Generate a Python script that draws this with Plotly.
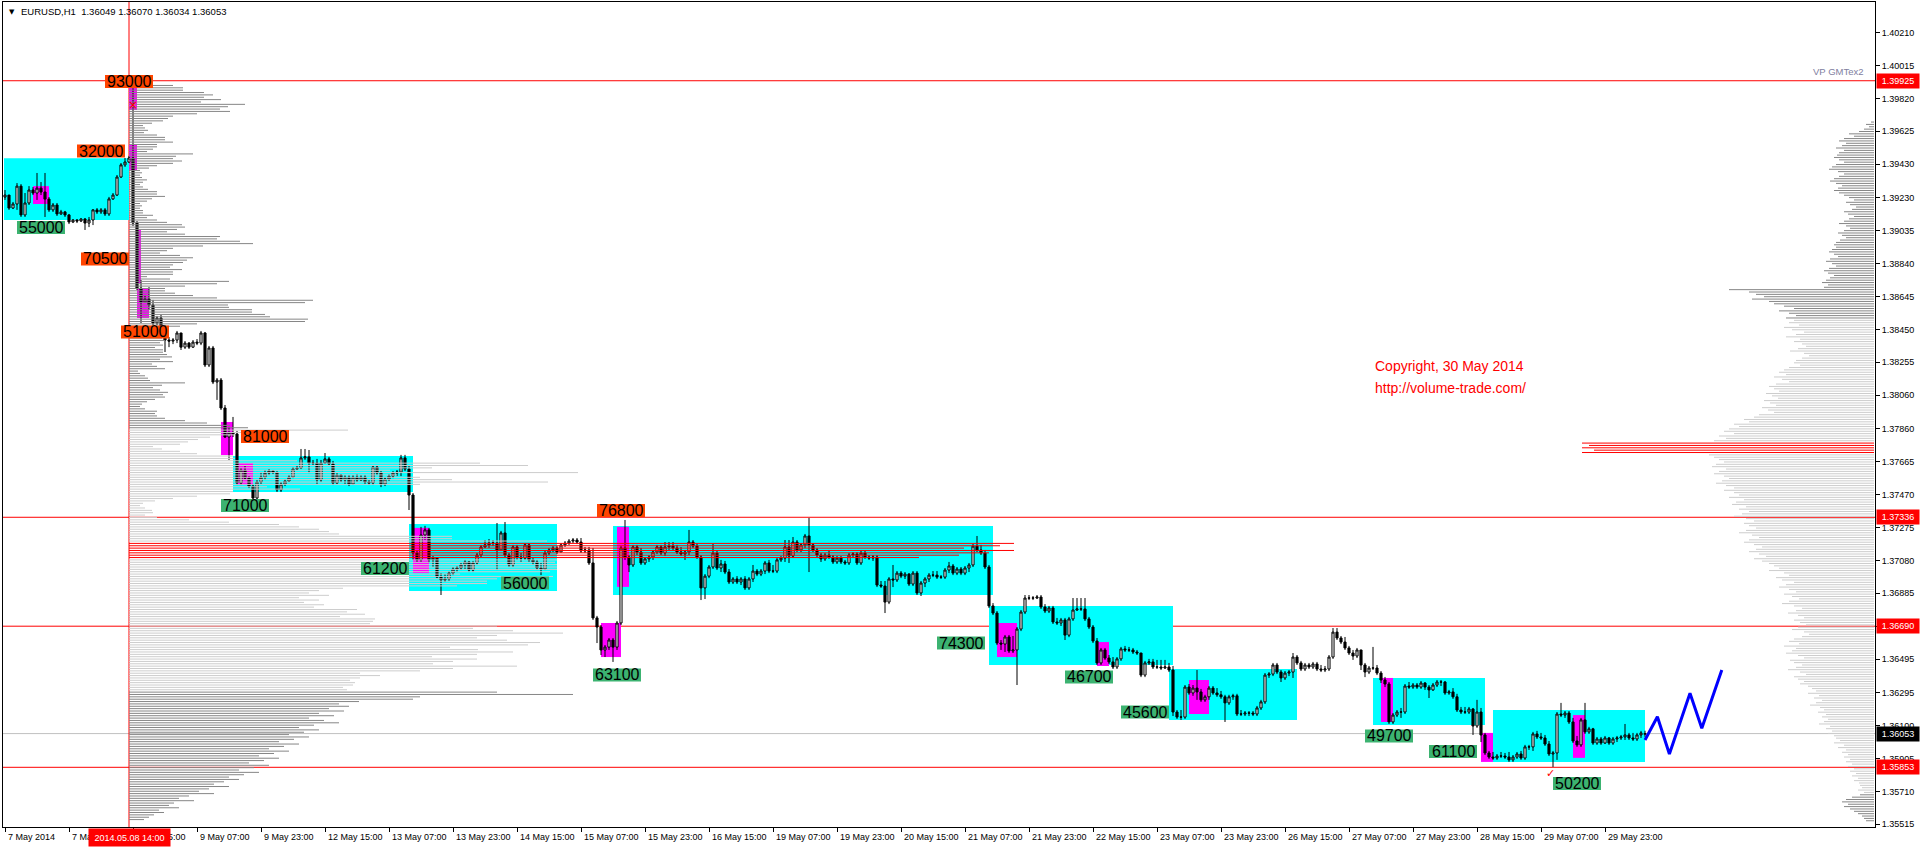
import plotly.graph_objects as go

# ======================= DATA =======================
# EURUSD H1 candles, prices in points (1e-5). Bar 0 = 7 May 2014 07:00
open_pts = [
139235,139247,139170,139194,139300,139129,139200,139277,139259,139288,
139265,139223,139159,139188,139135,139147,139129,139087,139099,139093,
139105,139081,139099,139159,139147,139159,139135,139224,139247,139354,
139426,139443,139467,139081,138695,138613,138631,138595,138488,138518,
138464,138387,138381,138387,138429,138345,138369,138345,138375,138369,
138429,138239,138340,138138,138150,137984,137812,137836,137830,137539,
137616,137568,137521,137450,137545,137574,137598,137610,137604,137498,
137533,137551,137574,137622,137628,137688,137694,137658,137658,137557,
137658,137682,137652,137539,137586,137557,137574,137533,137574,137557,
137574,137545,137539,137634,137598,137533,137563,137580,137598,137604,
137688,137622,137468,137124,137083,137231,137261,137083,137094,136981,
136964,136970,137005,137029,137035,137053,137071,137023,137065,137112,
137160,137172,137183,137183,137142,137243,137112,137053,137160,137100,
137094,137172,137083,137071,137035,137029,137124,137142,137154,137130,
137172,137183,137195,137201,137189,137136,137142,137065,136739,136685,
136549,136566,136608,136566,136709,137154,137100,137053,137160,137130,
137065,137089,137100,137130,137160,137124,137160,137165,137154,137130,
137118,137130,137189,137165,137100,136917,136987,137041,137124,137035,
137059,137011,136952,136970,136952,136970,136917,136970,137017,136999,
137017,137065,137017,137017,137083,137094,137160,137106,137189,137142,
137172,137225,137172,137142,137112,137089,137112,137100,137071,137094,
137071,137065,137112,137118,137065,137124,137100,137094,137100,136934,
136928,136833,136970,136964,137005,136987,136999,136940,137005,136887,
136946,136970,136993,136993,136981,136981,137023,137047,137005,137029,
137005,137035,137053,137165,137142,137124,137041,136810,136768,136590,
136584,136626,136543,136549,136673,136774,136857,136857,136857,136863,
136804,136780,136798,136715,136709,136727,136637,136733,136786,136792,
136792,136733,136685,136602,136472,136549,136501,136478,136448,136496,
136555,136549,136549,136537,136531,136400,136472,136478,136448,136448,
136442,136448,136430,136181,136151,136151,136329,136294,136323,136300,
136253,136271,136323,136294,136283,136271,136235,136271,136277,136169,
136169,136175,136175,136169,136205,136241,136400,136406,136460,136418,
136383,136412,136418,136507,136472,136436,136460,136448,136466,136436,
136430,136436,136507,136655,136620,136596,136561,136531,136513,136549,
136460,136418,136442,136442,136412,136371,136347,136122,136163,136181,
136181,136335,136329,136341,136329,136353,136329,136312,136341,136359,
136359,136294,136300,136271,136193,136181,136181,136199,136098,136181,
136045,135938,135914,135908,135920,135920,135914,135897,135914,135932,
135908,135974,135974,136051,136033,136027,135991,135932,135938,136169,
136163,136175,136122,136009,135986,136134,136063,136081,135997,136021,
135997,136027,135997,136021,136027,136033,136045,136027,136021,136045,
136049]
high_pts = [
139277,139247,139206,139318,139312,139259,139300,139294,139378,139324,
139378,139235,139200,139200,139159,139153,139135,139105,139105,139111,
139111,139117,139164,139170,139170,139170,139236,139259,139366,139437,
139467,139479,139925,139093,138743,138655,138701,138625,138530,138536,
138476,138405,138399,138441,138429,138381,138375,138387,138393,138441,
138435,138352,138352,138162,138162,138002,137872,137931,137848,137628,
137640,137580,137533,137557,137604,137616,137622,137616,137604,137545,
137563,137586,137634,137640,137741,137741,137735,137676,137682,137676,
137717,137694,137670,137598,137592,137586,137586,137586,137592,137586,
137586,137557,137646,137646,137610,137574,137592,137610,137616,137706,
137706,137640,137480,137142,137279,137285,137273,137106,137094,137005,
136999,137017,137041,137047,137065,137083,137077,137077,137124,137172,
137201,137207,137201,137302,137255,137308,137124,137172,137172,137124,
137183,137183,137094,137083,137065,137136,137154,137165,137165,137183,
137195,137207,137213,137213,137213,137160,137160,137154,136751,136697,
136578,136620,136620,136721,137165,137320,137112,137172,137172,137154,
137100,137112,137142,137172,137172,137189,137189,137189,137172,137160,
137142,137261,137201,137183,137112,136999,137053,137177,137136,137083,
137077,137029,136981,136987,136981,136987,136981,137053,137029,137029,
137077,137083,137053,137094,137106,137201,137201,137219,137201,137183,
137237,137332,137183,137154,137124,137124,137142,137112,137106,137106,
137083,137124,137130,137130,137136,137136,137112,137112,137112,136958,
136958,136981,137053,137017,137017,137011,137005,137017,137017,136958,
136981,137005,137017,137017,136993,137035,137071,137059,137041,137041,
137047,137065,137177,137225,137172,137142,137053,136827,136780,136608,
136638,136638,136632,136685,136786,136875,136875,136869,136875,136875,
136821,136810,136810,136739,136739,136739,136745,136857,136857,136857,
136857,136745,136697,136620,136561,136561,136519,136507,136507,136567,
136573,136567,136561,136549,136531,136484,136496,136496,136490,136490,
136490,136472,136454,136193,136193,136341,136347,136341,136430,136318,
136283,136335,136335,136323,136306,136283,136283,136289,136289,136193,
136187,136187,136187,136217,136253,136412,136418,136472,136472,136430,
136424,136430,136531,136519,136484,136472,136472,136478,136478,136460,
136454,136519,136679,136679,136632,136626,136573,136549,136561,136549,
136472,136454,136567,136460,136424,136389,136359,136175,136193,136205,
136347,136359,136353,136353,136365,136359,136341,136353,136371,136371,
136365,136312,136323,136289,136211,136211,136211,136205,136253,136205,
136057,135950,135944,135932,135944,135938,135944,135926,135944,135950,
135986,135986,136063,136069,136057,136045,136009,135950,136181,136235,
136187,136187,136146,136039,136146,136235,136093,136087,136033,136033,
136039,136033,136033,136039,136045,136110,136057,136057,136057,136069,
136070]
low_pts = [
139218,139159,139164,139159,139117,139117,139188,139247,139218,139247,
139117,139147,139147,139123,139129,139117,139075,139081,139081,139087,
139040,139057,139069,139135,139135,139123,139123,139218,139241,139348,
139414,139437,139063,138684,138488,138613,138565,138476,138476,138447,
138316,138345,138363,138369,138328,138334,138334,138340,138357,138357,
138227,138227,138126,138032,137972,137806,137676,137812,137527,137527,
137557,137509,137439,137439,137533,137557,137586,137592,137486,137486,
137521,137545,137568,137616,137622,137676,137598,137646,137533,137545,
137652,137640,137527,137533,137545,137533,137521,137533,137545,137551,
137533,137527,137527,137586,137515,137521,137551,137568,137580,137580,
137610,137379,137083,137071,137071,137201,137065,137041,136975,136875,
136952,136958,136993,137011,137023,137029,137011,137011,137053,137100,
137154,137154,137165,137023,137142,137100,137041,137041,137083,137071,
137083,137071,137053,137023,136993,137023,137112,137130,137118,137130,
137160,137172,137183,137177,137124,137124,137053,136727,136590,136519,
136507,136549,136478,136549,136697,137083,137011,137041,137112,137053,
137053,137071,137083,137118,137112,137106,137142,137142,137118,137106,
137083,137112,137154,137089,136845,136851,136975,137029,137023,137011,
136999,136940,136940,136940,136934,136905,136905,136952,136987,136987,
136999,137005,137005,137005,137071,137071,137065,137094,137130,137130,
137154,137011,137130,137100,137071,137077,137089,137059,137059,137059,
137053,137053,137094,137053,137053,137089,137083,137077,136922,136917,
136768,136821,136922,136952,136975,136970,136928,136928,136875,136869,
136922,136952,136981,136970,136970,136970,137005,136993,136993,136993,
136993,137011,137041,137130,137112,137029,136798,136756,136578,136549,
136537,136531,136531,136341,136661,136762,136845,136845,136851,136792,
136768,136768,136703,136697,136691,136608,136625,136721,136780,136780,
136721,136673,136590,136460,136460,136490,136466,136436,136436,136484,
136537,136537,136525,136519,136388,136388,136460,136436,136436,136430,
136436,136418,136157,136140,136134,136140,136283,136277,136253,136241,
136241,136253,136283,136271,136259,136122,136223,136253,136157,136157,
136157,136157,136157,136157,136193,136229,136383,136394,136406,136359,
136371,136394,136383,136460,136424,136424,136436,136436,136424,136418,
136418,136424,136496,136608,136584,136549,136519,136490,136501,136430,
136388,136406,136430,136400,136353,136329,136110,136110,136151,136146,
136169,136318,136318,136318,136318,136312,136264,136306,136329,136335,
136283,136283,136259,136181,136169,136169,136169,136045,136087,136003,
135926,135903,135897,135897,135908,135903,135885,135885,135903,135897,
135897,135956,135950,136021,136015,135980,135920,135855,135897,136151,
136146,136110,135997,135974,135974,136051,136051,135986,135986,135986,
135991,135986,135986,136003,136015,136015,136015,136009,136009,136027,
136034]
close_pts = [
139247,139170,139194,139300,139129,139200,139277,139259,139288,139265,
139223,139159,139188,139135,139147,139129,139087,139099,139093,139105,
139081,139099,139159,139147,139159,139135,139224,139247,139354,139426,
139443,139467,139081,138695,138613,138631,138595,138488,138518,138464,
138387,138381,138387,138429,138345,138369,138345,138375,138369,138429,
138239,138340,138138,138150,137984,137812,137836,137830,137539,137616,
137568,137521,137450,137545,137574,137598,137610,137604,137498,137533,
137551,137574,137622,137628,137688,137694,137658,137658,137557,137658,
137682,137652,137539,137586,137557,137574,137533,137574,137557,137574,
137545,137539,137634,137598,137533,137563,137580,137598,137604,137688,
137622,137468,137124,137083,137231,137261,137083,137094,136981,136964,
136970,137005,137029,137035,137053,137071,137023,137065,137112,137160,
137172,137183,137183,137142,137243,137112,137053,137160,137100,137094,
137172,137083,137071,137035,137029,137124,137142,137154,137130,137172,
137183,137195,137201,137189,137136,137142,137065,136739,136685,136549,
136566,136608,136566,136709,137154,137100,137053,137160,137130,137065,
137089,137100,137130,137160,137124,137160,137165,137154,137130,137118,
137130,137189,137165,137100,136917,136987,137041,137124,137035,137059,
137011,136952,136970,136952,136970,136917,136970,137017,136999,137017,
137065,137017,137017,137083,137094,137160,137106,137189,137142,137172,
137225,137172,137142,137112,137089,137112,137100,137071,137094,137071,
137065,137112,137118,137065,137124,137100,137094,137100,136934,136928,
136833,136970,136964,137005,136987,136999,136940,137005,136887,136946,
136970,136993,136993,136981,136981,137023,137047,137005,137029,137005,
137035,137053,137165,137142,137124,137041,136810,136768,136590,136584,
136626,136543,136549,136673,136774,136857,136857,136857,136863,136804,
136780,136798,136715,136709,136727,136637,136733,136786,136792,136792,
136733,136685,136602,136472,136549,136501,136478,136448,136496,136555,
136549,136549,136537,136531,136400,136472,136478,136448,136448,136442,
136448,136430,136181,136151,136151,136329,136294,136323,136300,136253,
136271,136323,136294,136283,136271,136235,136271,136277,136169,136169,
136175,136175,136169,136205,136241,136400,136406,136460,136418,136383,
136412,136418,136507,136472,136436,136460,136448,136466,136436,136430,
136436,136507,136655,136620,136596,136561,136531,136513,136549,136460,
136418,136442,136442,136412,136371,136347,136122,136163,136181,136181,
136335,136329,136341,136329,136353,136329,136312,136341,136359,136359,
136294,136300,136271,136193,136181,136181,136199,136098,136181,136045,
135938,135914,135908,135920,135920,135914,135897,135914,135932,135908,
135974,135974,136051,136033,136027,135991,135932,135938,136169,136163,
136175,136122,136009,135986,136134,136063,136081,135997,136021,135997,
136027,135997,136021,136027,136033,136045,136027,136021,136045,136057,
136053]

# time axis labels (bar index -> text)
time_tick_bars = [0, 16, 32, 48, 64, 80, 96, 112, 128, 144, 160, 176, 192, 208,
                  224, 240, 256, 272, 288, 304, 320, 336, 352, 368, 384, 400]
time_tick_labels = ["7 May 2014", "7 May 23:00", "8 May 15:00", "9 May 07:00", "9 May 23:00",
                    "12 May 15:00", "13 May 07:00", "13 May 23:00", "14 May 15:00", "15 May 07:00",
                    "15 May 23:00", "16 May 15:00", "19 May 07:00", "19 May 23:00", "20 May 15:00",
                    "21 May 07:00", "21 May 23:00", "22 May 15:00", "23 May 07:00", "23 May 23:00",
                    "26 May 15:00", "27 May 07:00", "27 May 23:00", "28 May 15:00", "29 May 07:00",
                    "29 May 23:00"]

price_ticks = [1.40210, 1.40015, 1.39820, 1.39625, 1.39430, 1.39230, 1.39035, 1.38840, 1.38645,
               1.38450, 1.38255, 1.38060, 1.37860, 1.37665, 1.37470, 1.37275, 1.37080, 1.36885,
               1.36690, 1.36495, 1.36295, 1.36100, 1.35905, 1.35710, 1.35515]

level_prices = [1.39925, 1.37336, 1.36690, 1.35853]
bid_price = 1.36053
event_bar = 31
event_label = "2014.05.08 14:00"

# value-area boxes (cyan): x from/to in bars, high/low in points
va_x0 = [-0.25, 57, 101, 152, 246, 291, 342, 372]
va_x1 = [31, 102, 138, 247, 292, 323, 370, 410]
va_hi = [139466, 137699, 137296, 137284, 136809, 136436, 136383, 136193]
va_lo = [139099, 137486, 136899, 136875, 136460, 136134, 136104, 135885]

# POC boxes (magenta)
poc_x0 = [7, 31, 31, 33, 33, 54, 58, 102, 149, 153, 248, 273, 296, 344, 369, 392]
poc_x1 = [11, 33, 33, 34, 36, 57, 62, 106, 154, 156, 253, 276, 301, 347, 372, 395]
poc_hi = [139300, 139900, 139544, 139040, 138695, 137901, 137658, 137273, 136709, 137279,
          136709, 136596, 136371, 136383, 136057, 136163]
poc_lo = [139194, 139752, 139396, 138725, 138518, 137705, 137527, 137005, 136507, 136923,
          136507, 136454, 136169, 136122, 135885, 135909]

# volume profile (left, starting at event bar) - top price, step, volumes
left_profile_top = 139925
profile_step = 14
left_profile_vol = [
23,23,44,54,54,75,84,75,92,72, 116,99,91,101,68,44,39,34,23,14,
16,19,15,28,36,36,44,28,28,24, 18,64,47,44,53,44,28,20,11,13,
11,13,18,14,11,14,19,28,28,36, 23,18,11,13,11,14,14,24,18,28,
38,53,56,48,38,56,91,88,111,124, 74,44,38,31,51,64,58,54,44,41,
53,44,44,18,41,100,88,56,36,36, 46,64,88,184,176,99,100,123,123,136,
141,179,176,68,51,36,34,34,34,33, 36,31,34,26,34,34,38,43,31,44,
23,28,36,9,11,16,19,21,56,33, 24,31,39,34,36,26,18,13,11,16,
28,26,28,36,56,78,101,119,219,158, 106,81,69,59,51,24,33,51,68,104,
106,168,351,399,303,261,449,268,291,323, 419,291,138,171,104,101,68,44,26,14,
11,16,23,24,16,28,60,100,150,170, 190,200,210,323,323,418,885,871,835,885,
860,830,790,428,426,428,428,428,421,331, 424,368,358,358,328,214,190,180,200,170,
190,175,195,185,228,218,236,211,246,244, 241,368,344,384,434,368,348,378,411,399,
321,349,384,348,303,348,324,304,388,324, 291,231,251,231,221,226,224,214,218,368,
444,291,284,230,210,220,200,215,190,205, 180,195,210,185,170,190,175,160,180,165,
150,170,155,140,160,145,130,150,135,120, 140,125,110,130,115,100,110,95,85,100,
80,70,85,60,50,65,45,40,50,30, 35,25,20,15]
left_va_high, left_va_low = 137860, 136305
left_poc_high, left_poc_low = 137190, 137090

# volume profile (right, drawn from the price axis leftwards)
right_profile_top = 139680
right_profile_vol = [
3,8,5,10, 15,25,20,30,35,28,32,38,30,35,
37,40,35,30,38,42,45,36,30,35,40,44,38,32,36,40,35,30,
25,20,28,24,18,22,30,26,20,25,30,35,28,24,30,36,32,28,34,38,40,
38,42,45,40,36,44,48,42,38,45,50,46,40,44,48,52,46,50,
145, 125,118,110,122,105,100, 90,80,95,85,78,88,
80,85,75,90,82,70,78,88,74,80,72,68,76,84,70,65,72,78,80,74,
85,90,95,88,100,92,85,98,105,100,95,108,102,96,110,104,98,112,106,100,115,
120,130,125,140,135,145,150,140,155,148,160,
292,285,292,280,292,
165,160,155,150,158,162,148,155,160,150,145,152,158,148,140,
150,140,135,145,130,138,142,128,135,125,132,140,128,120,130,125,118,128,135,122,115,125,130,120,112,118,125,115,108,120,112,105,
100,95,105,90,85,98,92,80,88,95,85,78,90,82,75,85,92,80,72,78,86,76,70,80,74,68,76,82,70,65,72,
80,85,75,90,78,82,88,76,70,84,80,72,78,86,74,68,80,76,70,74,66,
62,58,66,55,60,52,58,64,54,50,56,48,52,46,50,55,44,48,42,46,40,
38,34,40,30,36,28,32,26,30,24,28,22,26,20,24,18,22,16,20,15,
14,12,16,10,14,22,28,32,26,30,24,20,16,12,10,8]
right_va_high, right_va_low = 138510, 135695
right_poc_high, right_poc_low = 137780, 137715

# volume labels
label_text = ["93000", "32000", "55000", "70500", "51000", "81000", "71000", "61200", "56000",
              "76800", "63100", "74300", "46700", "45600", "49700", "61100", "50200"]
label_bar = [25, 18, 3, 19, 29, 59, 54, 89, 124, 148, 147, 233, 265, 279, 340, 356, 387]
label_price = [139921, 139508, 139054, 138868, 138435, 137815, 137406, 137032, 136946,
               137376, 136401, 136590, 136389, 136181, 136039, 135947, 135757]
label_kind = ["hi", "hi", "lo", "hi", "hi", "hi", "lo", "lo", "lo",
              "hi", "lo", "lo", "lo", "lo", "lo", "lo", "lo"]

# forecast zigzag
forecast_bar = [410, 413.1, 416.1, 421.25, 424.2, 429.2]
forecast_pts = [136015, 136153, 135932, 136292, 136085, 136430]

# ======================= LAYOUT GEOMETRY =======================
FIG_W, FIG_H = 1920, 849
ML, MR, MT, MB = 3, 45, 2, 22
PW = FIG_W - ML - MR
PH = FIG_H - MT - MB
X_RANGE = [-0.5, 467.5]
Y_RANGE = [1.35499, 1.40392]
PPX = (Y_RANGE[1] - Y_RANGE[0]) / PH      # price per pixel
BPX = (X_RANGE[1] - X_RANGE[0]) / PW      # bars per pixel
FONT = "Liberation Sans, Arial, sans-serif"


def paper_x(px):
    return (px - ML) / PW


def paper_y(py):
    return (FIG_H - MB - py) / PH


def P(v):
    return v / 1e5


fig = go.Figure()
shapes = []
annotations = []

# cyan value-area boxes
for x0, x1, hi, lo in zip(va_x0, va_x1, va_hi, va_lo):
    shapes.append(dict(type="rect", xref="x", yref="y", x0=x0, x1=x1, y0=P(lo), y1=P(hi),
                       fillcolor="#00FFFF", line=dict(width=0), layer="below"))
# magenta POC boxes
for x0, x1, hi, lo in zip(poc_x0, poc_x1, poc_hi, poc_lo):
    shapes.append(dict(type="rect", xref="x", yref="y", x0=x0, x1=x1, y0=P(lo), y1=P(hi),
                       fillcolor="#FF00FF", line=dict(width=0), layer="below"))


# volume profiles
def profile_traces(top, vols, anchor, direction, va_hi_p, va_lo_p, poc_hi_p, poc_lo_p):
    groups = {"dark": ([], []), "light": ([], []), "red": ([], [])}
    for k, v in enumerate(vols):
        pr = top - profile_step * k
        if poc_lo_p <= pr <= poc_hi_p:
            g = "red"
        elif va_lo_p <= pr <= va_hi_p:
            g = "light"
        else:
            g = "dark"
        xs, ys = groups[g]
        xs += [anchor, anchor + direction * v * BPX, None]
        ys += [P(pr), P(pr), None]
    cols = {"dark": "#868686", "light": "#CDCDCD", "red": "#FF0000"}
    for g, (xs, ys) in groups.items():
        fig.add_trace(go.Scatter(x=xs, y=ys, mode="lines", line=dict(color=cols[g], width=1),
                                 hoverinfo="skip", showlegend=False))


profile_traces(left_profile_top, left_profile_vol, event_bar, 1,
               left_va_high, left_va_low, left_poc_high, left_poc_low)
profile_traces(right_profile_top, right_profile_vol, X_RANGE[1] - 0.25, -1,
               right_va_high, right_va_low, right_poc_high, right_poc_low)

# level lines
for lp in level_prices:
    shapes.append(dict(type="line", xref="paper", yref="y", x0=0, x1=1, y0=lp, y1=lp,
                       line=dict(color="#FF0000", width=1), layer="below"))
shapes.append(dict(type="line", xref="paper", yref="y", x0=0, x1=1, y0=bid_price, y1=bid_price,
                   line=dict(color="#C0C0C0", width=1), layer="below"))
shapes.append(dict(type="line", xref="x", yref="paper", x0=event_bar, x1=event_bar, y0=0, y1=1,
                   line=dict(color="#FF0000", width=1), layer="below"))

# candles
bars = list(range(len(close_pts)))
fig.add_trace(go.Candlestick(
    x=bars, open=[P(v) for v in open_pts], high=[P(v) for v in high_pts],
    low=[P(v) for v in low_pts], close=[P(v) for v in close_pts],
    increasing=dict(line=dict(color="black", width=1), fillcolor="white"),
    decreasing=dict(line=dict(color="black", width=1), fillcolor="black"),
    whiskerwidth=0, hoverinfo="skip", showlegend=False))

# forecast zigzag
fig.add_trace(go.Scatter(x=forecast_bar, y=[P(v) for v in forecast_pts], mode="lines",
                         line=dict(color="#0000FF", width=3), hoverinfo="skip", showlegend=False))

# volume labels
LBL_W = 48 * BPX
LBL_H = 13 * PPX
for t, b, pr, kind in zip(label_text, label_bar, label_price, label_kind):
    col = "#FF4500" if kind == "hi" else "#3CB371"
    shapes.append(dict(type="rect", xref="x", yref="y", x0=b, x1=b + LBL_W,
                       y0=P(pr) - LBL_H / 2, y1=P(pr) + LBL_H / 2,
                       fillcolor=col, line=dict(width=0), layer="above"))
    annotations.append(dict(x=b + LBL_W / 2, y=P(pr), xref="x", yref="y", text=t, showarrow=False,
                            xanchor="center", yanchor="middle",
                            font=dict(family=FONT, size=16, color="black")))

# markers
annotations.append(dict(x=32, y=1.39780, xref="x", yref="y", text="×", showarrow=False,
                        font=dict(family="DejaVu Sans", size=12, color="#FF0000")))
annotations.append(dict(x=386.3, y=1.35815, xref="x", yref="y", text="✓", showarrow=False,
                        font=dict(family="DejaVu Sans", size=11, color="#FF0000")))

# time labels
for b, t in zip(time_tick_bars, time_tick_labels):
    annotations.append(dict(x=b + 0.3, y=paper_y(837), xref="x", yref="paper", text=t,
                            showarrow=False, xanchor="left", yanchor="middle",
                            font=dict(family=FONT, size=9, color="black")))
annotations.append(dict(x=event_bar, y=paper_y(837), xref="x", yref="paper", text=event_label,
                        showarrow=False, xanchor="center", yanchor="middle", bgcolor="#FF0000",
                        width=79, height=15, font=dict(family=FONT, size=9, color="white")))

# price level labels on axis
for lp in level_prices:
    annotations.append(dict(x=paper_x(1876), y=lp, xref="paper", yref="y", text=f"{lp:.5f}",
                            showarrow=False, xanchor="left", yanchor="middle", bgcolor="#FF0000",
                            width=40, height=12, font=dict(family=FONT, size=9, color="white")))
annotations.append(dict(x=paper_x(1876), y=bid_price, xref="paper", yref="y", text=f"{bid_price:.5f}",
                        showarrow=False, xanchor="left", yanchor="middle", bgcolor="#000000",
                        width=40, height=12, font=dict(family=FONT, size=9, color="white")))

# header & texts
annotations.append(dict(x=paper_x(7), y=paper_y(12), xref="paper", yref="paper",
                        text="▼", showarrow=False, xanchor="left", yanchor="middle",
                        font=dict(family="DejaVu Sans", size=7, color="black")))
annotations.append(dict(x=paper_x(19), y=paper_y(12), xref="paper", yref="paper",
                        text="EURUSD,H1  1.36049 1.36070 1.36034 1.36053", showarrow=False,
                        xanchor="left", yanchor="middle", font=dict(family=FONT, size=9.5, color="black")))
annotations.append(dict(x=paper_x(1866), y=paper_y(72), xref="paper", yref="paper",
                        text="VP GMTex2", showarrow=False, xanchor="right", yanchor="middle",
                        font=dict(family=FONT, size=9.5, color="#8080A0")))
annotations.append(dict(x=paper_x(1373), y=paper_y(366), xref="paper", yref="paper",
                        text="Copyright, 30 May 2014", showarrow=False, xanchor="left", yanchor="middle",
                        font=dict(family=FONT, size=14, color="#FF0000")))
annotations.append(dict(x=paper_x(1373), y=paper_y(388), xref="paper", yref="paper",
                        text="http://volume-trade.com/", showarrow=False, xanchor="left", yanchor="middle",
                        font=dict(family=FONT, size=14, color="#FF0000")))

fig.update_layout(
    width=FIG_W, height=FIG_H,
    margin=dict(l=ML, r=MR, t=MT, b=MB, pad=0),
    paper_bgcolor="white", plot_bgcolor="white",
    showlegend=False, boxgap=0.25,
    shapes=shapes, annotations=annotations,
    xaxis=dict(range=X_RANGE, showgrid=False, zeroline=False, showline=True, linecolor="black",
               linewidth=1, mirror=True, ticks="outside", ticklen=4, tickcolor="black",
               tickvals=time_tick_bars, showticklabels=False,
               rangeslider=dict(visible=False), fixedrange=True),
    yaxis=dict(range=Y_RANGE, side="right", showgrid=False, zeroline=False, showline=True,
               linecolor="black", linewidth=1, mirror=True, ticks="outside", ticklen=4,
               tickcolor="black", tickvals=price_ticks, ticktext=[f"{v:.5f}" for v in price_ticks],
               tickfont=dict(family=FONT, size=9, color="black"), fixedrange=True),
)

fig.write_html("out.html", config={"displayModeBar": False},
               post_script="document.body.style.margin='0px';document.body.style.overflow='hidden';")
